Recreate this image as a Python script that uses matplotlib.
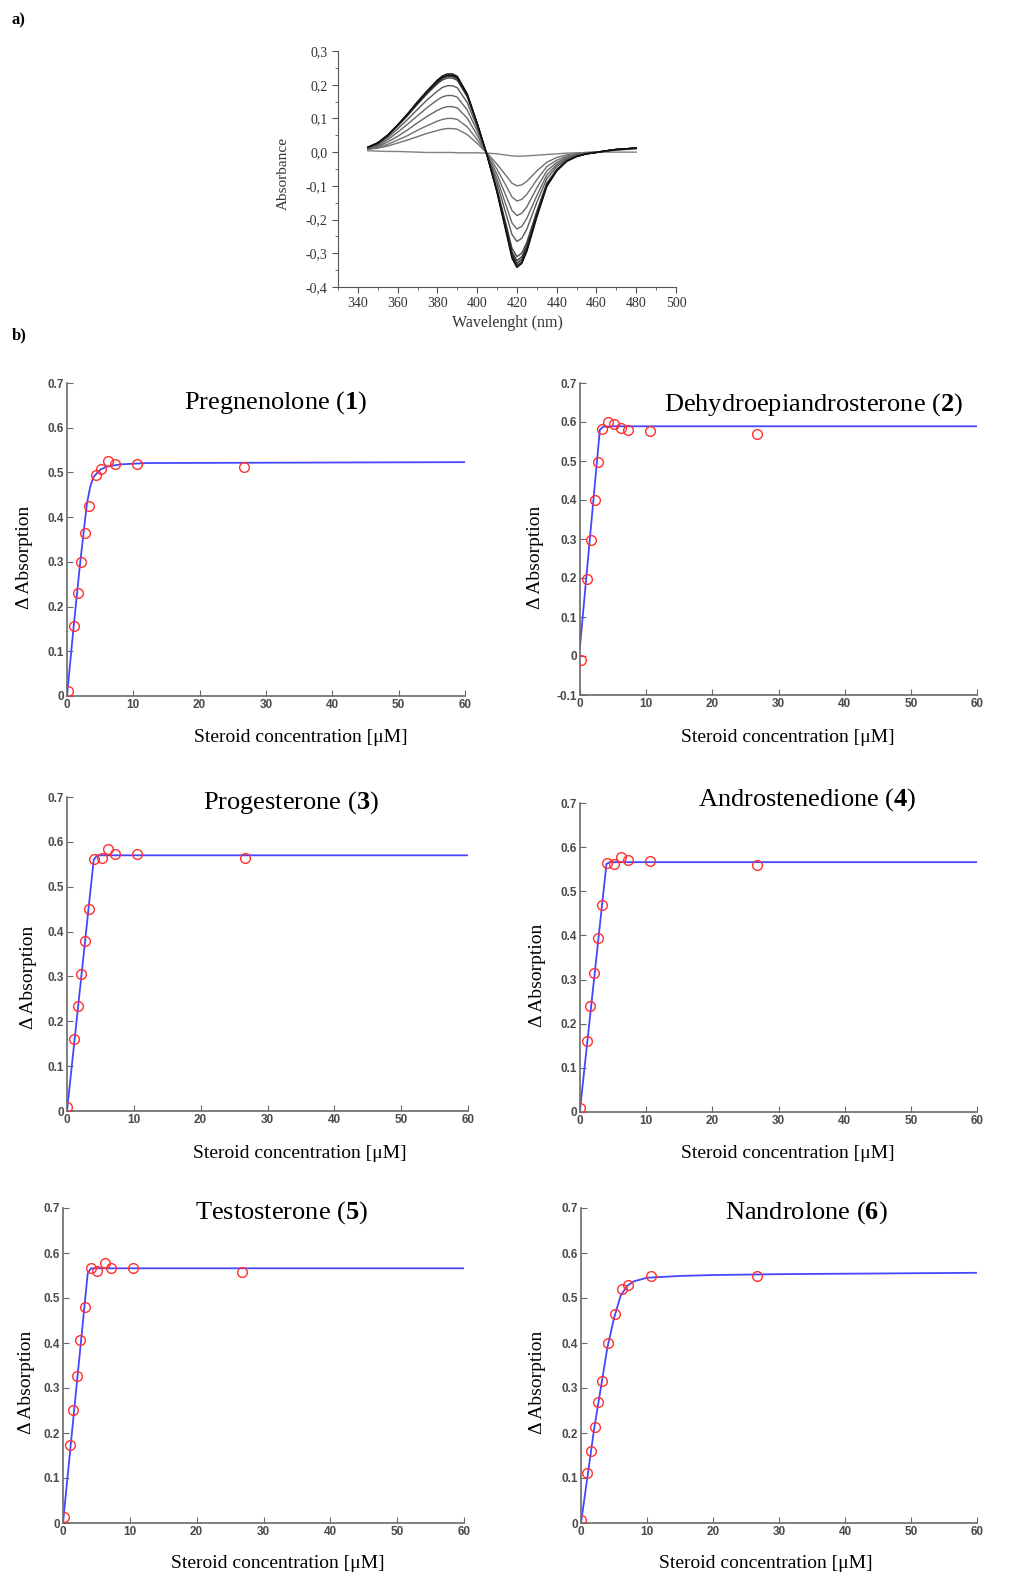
import numpy as np
import matplotlib.pyplot as plt
from matplotlib.ticker import MultipleLocator, FuncFormatter

plt.rcParams['font.family'] = ['Liberation Serif', 'DejaVu Serif']
plt.rcParams['mathtext.fontset'] = 'custom'
plt.rcParams['mathtext.rm'] = 'Liberation Serif'
plt.rcParams['mathtext.bf'] = 'Liberation Serif:bold'

# ---- a) difference spectra ----
wavelength = [345, 350, 355, 360, 365, 370, 375, 380, 382.5, 385, 387.5, 390, 395, 400, 405, 410,
              415, 417.5, 420, 422.5, 425, 430, 435, 440, 445, 450, 455, 460, 465, 470, 475, 480]
spec0 = [0.004, 0.003, 0.002, 0.002, 0.001, 0.0, -0.001, -0.001, -0.001, -0.001, -0.001, -0.002, -0.002, -0.002, -0.003, -0.005,
         -0.009, -0.011, -0.012, -0.012, -0.011, -0.009, -0.007, -0.005, -0.003, -0.002, -0.001, 0.0, 0.0, 0.0, 0.0, 0.0]
spec1 = [0.008, 0.012, 0.018, 0.027, 0.036, 0.046, 0.056, 0.064, 0.068, 0.070, 0.070, 0.068, 0.052, 0.026, -0.003, -0.036,
         -0.073, -0.092, -0.100, -0.097, -0.086, -0.056, -0.030, -0.016, -0.008, -0.004, -0.001, 0.0, 0.003, 0.006, 0.008, 0.010]
spec2 = [0.009, 0.014, 0.023, 0.036, 0.049, 0.065, 0.079, 0.092, 0.097, 0.100, 0.100, 0.097, 0.075, 0.037, -0.004, -0.051,
         -0.105, -0.133, -0.145, -0.140, -0.125, -0.082, -0.043, -0.024, -0.012, -0.006, -0.002, 0.0, 0.003, 0.006, 0.009, 0.011]
spec3 = [0.010, 0.017, 0.030, 0.047, 0.066, 0.087, 0.107, 0.124, 0.131, 0.135, 0.135, 0.131, 0.101, 0.050, -0.006, -0.066,
         -0.137, -0.173, -0.188, -0.181, -0.162, -0.106, -0.056, -0.031, -0.015, -0.007, -0.003, 0.0, 0.004, 0.007, 0.009, 0.011]
spec4 = [0.011, 0.020, 0.037, 0.059, 0.083, 0.108, 0.133, 0.155, 0.164, 0.168, 0.168, 0.163, 0.125, 0.063, -0.007, -0.080,
         -0.166, -0.210, -0.228, -0.220, -0.196, -0.129, -0.068, -0.037, -0.018, -0.009, -0.003, 0.0, 0.004, 0.007, 0.010, 0.011]
spec5 = [0.012, 0.023, 0.043, 0.069, 0.097, 0.127, 0.156, 0.181, 0.192, 0.197, 0.197, 0.191, 0.147, 0.073, -0.008, -0.093,
         -0.193, -0.244, -0.265, -0.255, -0.228, -0.149, -0.079, -0.043, -0.021, -0.010, -0.004, 0.0, 0.004, 0.008, 0.010, 0.012]
spec6 = [0.013, 0.026, 0.048, 0.077, 0.108, 0.142, 0.174, 0.203, 0.214, 0.220, 0.220, 0.213, 0.164, 0.082, -0.009, -0.109,
         -0.225, -0.285, -0.310, -0.299, -0.267, -0.175, -0.092, -0.051, -0.025, -0.012, -0.005, -0.001, 0.004, 0.008, 0.010, 0.012]
spec7 = [0.014, 0.027, 0.049, 0.079, 0.111, 0.145, 0.178, 0.207, 0.219, 0.225, 0.225, 0.218, 0.168, 0.084, -0.010, -0.113,
         -0.234, -0.296, -0.322, -0.310, -0.277, -0.181, -0.096, -0.053, -0.026, -0.012, -0.005, -0.001, 0.004, 0.008, 0.010, 0.012]
spec8 = [0.014, 0.027, 0.050, 0.080, 0.112, 0.147, 0.180, 0.210, 0.222, 0.228, 0.228, 0.221, 0.170, 0.085, -0.010, -0.116,
         -0.240, -0.303, -0.330, -0.318, -0.284, -0.186, -0.098, -0.054, -0.026, -0.013, -0.005, -0.001, 0.004, 0.008, 0.010, 0.012]
spec9 = [0.014, 0.027, 0.050, 0.080, 0.112, 0.147, 0.180, 0.210, 0.222, 0.228, 0.228, 0.221, 0.170, 0.085, -0.010, -0.118,
         -0.245, -0.310, -0.337, -0.325, -0.290, -0.190, -0.100, -0.055, -0.027, -0.013, -0.005, -0.001, 0.004, 0.008, 0.010, 0.012]
spec10 = [0.015, 0.028, 0.051, 0.081, 0.114, 0.150, 0.183, 0.214, 0.226, 0.232, 0.232, 0.225, 0.173, 0.086, -0.010, -0.120,
          -0.249, -0.315, -0.342, -0.330, -0.294, -0.193, -0.102, -0.056, -0.027, -0.013, -0.005, -0.001, 0.004, 0.008, 0.010, 0.013]
spectra = [spec0, spec1, spec2, spec3, spec4, spec5, spec6, spec7, spec8, spec9, spec10]
spec_colors = ['#808080', '#707070', '#707070', '#666666', '#666666', '#5a5a5a',
               '#444444', '#333333', '#2a2a2a', '#1a1a1a', '#111111']

# ---- b) titrations ----
names = ['Pregnenolone', 'Dehydroepiandrosterone', 'Progesterone',
         'Androstenedione', 'Testosterone', 'Nandrolone']
numbers = ['1', '2', '3', '4', '5', '6']

preg_x = [0.1, 1.0, 1.6, 2.1, 2.7, 3.3, 4.3, 5.2, 6.2, 7.3, 10.5, 26.7]
preg_y = [0.011, 0.157, 0.230, 0.299, 0.364, 0.425, 0.495, 0.507, 0.525, 0.519, 0.519, 0.513]
preg_fx = [0, 1, 2, 3, 3.5, 4, 5, 6, 8, 12, 60]
preg_fy = [0.0, 0.155, 0.300, 0.430, 0.468, 0.490, 0.506, 0.513, 0.518, 0.521, 0.523]

dhea_x = [0.1, 1.1, 1.6, 2.2, 2.7, 3.4, 4.2, 5.2, 6.2, 7.2, 10.6, 26.7]
dhea_y = [-0.009, 0.198, 0.298, 0.400, 0.497, 0.582, 0.601, 0.594, 0.584, 0.580, 0.577, 0.569]
dhea_fx = [0, 3.0, 3.5, 5, 60]
dhea_fy = [0.025, 0.580, 0.588, 0.589, 0.589]

prog_x = [0.05, 1.1, 1.65, 2.1, 2.7, 3.25, 4.1, 5.2, 6.2, 7.2, 10.5, 26.7]
prog_y = [0.009, 0.161, 0.233, 0.305, 0.379, 0.451, 0.562, 0.565, 0.583, 0.574, 0.574, 0.563]
prog_fx = [0, 4.0, 4.5, 60]
prog_fy = [0.0, 0.560, 0.570, 0.570]

andr_x = [0.05, 1.0, 1.56, 2.17, 2.7, 3.3, 4.1, 5.2, 6.25, 7.26, 10.6, 26.7]
andr_y = [0.009, 0.161, 0.240, 0.316, 0.395, 0.469, 0.564, 0.561, 0.578, 0.570, 0.568, 0.559]
andr_fx = [0, 4.0, 4.5, 60]
andr_fy = [0.005, 0.562, 0.566, 0.566]

test_x = [0.1, 1.0, 1.55, 2.1, 2.6, 3.25, 4.15, 5.15, 6.3, 7.25, 10.5, 26.8]
test_y = [0.013, 0.173, 0.252, 0.327, 0.407, 0.481, 0.566, 0.561, 0.578, 0.567, 0.567, 0.557]
test_fx = [0, 3.7, 4.2, 60]
test_fy = [0.0, 0.555, 0.566, 0.566]

nand_x = [0.0, 0.96, 1.5, 2.07, 2.63, 3.24, 4.1, 5.16, 6.17, 7.18, 10.57, 26.7]
nand_y = [0.006, 0.111, 0.160, 0.214, 0.269, 0.316, 0.401, 0.464, 0.520, 0.528, 0.548, 0.548]
nand_fx = [0, 1, 2, 3, 4, 5, 6, 7, 8, 10, 15, 20, 30, 60]
nand_fy = [0.0, 0.105, 0.210, 0.300, 0.390, 0.455, 0.505, 0.527, 0.537, 0.545, 0.549, 0.551, 0.553, 0.556]

data_x = [preg_x, dhea_x, prog_x, andr_x, test_x, nand_x]
data_y = [preg_y, dhea_y, prog_y, andr_y, test_y, nand_y]
fit_x = [preg_fx, dhea_fx, prog_fx, andr_fx, test_fx, nand_fx]
fit_y = [preg_fy, dhea_fy, prog_fy, andr_fy, test_fy, nand_fy]
y_bottom = [0, -0.1, 0, 0, 0, 0]

W, H = 1011, 1575
fig = plt.figure(figsize=(W / 100, H / 100), dpi=100)


def box(l, r, t, b):
    return [l / W, 1 - b / H, (r - l) / W, (b - t) / H]


# panel a
ax = fig.add_axes(box(338, 676, 51, 287))
for s, c in zip(spectra, spec_colors):
    ax.plot(wavelength, s, color=c, lw=1.0)
ax.set_xlim(330, 500)
ax.set_ylim(-0.4, 0.3)
ax.xaxis.set_major_locator(MultipleLocator(20))
ax.xaxis.set_minor_locator(MultipleLocator(10))
ax.yaxis.set_major_locator(MultipleLocator(0.1))
ax.yaxis.set_minor_locator(MultipleLocator(0.05))
ax.yaxis.set_major_formatter(FuncFormatter(lambda v, p: f'{v:.1f}'.replace('.', ',').replace('-0,0', '0,0')))
for sp in ['top', 'right']:
    ax.spines[sp].set_visible(False)
for sp in ['left', 'bottom']:
    ax.spines[sp].set_color('#555555')
ax.tick_params(which='both', direction='out', colors='#555555', labelcolor='#333333', labelsize=10)
ax.tick_params(which='major', length=4)
ax.tick_params(which='minor', length=2)
ax.set_ylabel('Absorbance', fontsize=11, color='#333333', va='center')
ax.yaxis.set_label_coords((283 - 338) / 338, 1 - (174 - 51) / 236)
ax.set_xlabel('Wavelenght (nm)', fontsize=11.5, color='#333333', va='center')
ax.xaxis.set_label_coords((507 - 338) / 338, -(323 - 287) / 236)

fig.text(12 / W, 1 - 20 / H, 'a)', fontsize=12, fontweight='bold', va='center')
fig.text(12 / W, 1 - 335 / H, 'b)', fontsize=12, fontweight='bold', va='center')

# panel b layout (pixels): left, right, top, bottom
boxes = [(67, 465, 383, 696), (580, 977, 383, 695),
         (67, 468, 797, 1111), (580, 977, 803, 1112),
         (63, 464, 1208, 1523), (581, 977, 1208, 1523)]
title_pos = [(0.525, 0.936), (0.589, 0.93), (0.559, 0.981),
             (0.572, 1.01), (0.546, 0.987), (0.568, 0.987)]
xlab_pos = [(0.588, -0.131), (0.524, -0.135), (0.581, -0.134),
            (0.524, -0.133), (0.536, -0.127), (0.467, -0.127)]
ylab_pos = [(-0.108, 0.444), (-0.113, 0.442), (-0.097, 0.427),
            (-0.106, 0.443), (-0.09, 0.448), (-0.111, 0.448)]

for i in range(6):
    ax = fig.add_axes(box(*boxes[i]))
    ax.plot(fit_x[i], fit_y[i], color='#4646ff', lw=1.3, zorder=2)
    ax.plot(data_x[i], data_y[i], linestyle='none', marker='o', ms=7, mfc='none',
            mec='#ff3030', mew=1.0, zorder=3)
    ax.set_xlim(0, 60)
    ax.set_ylim(y_bottom[i], 0.7)
    ax.xaxis.set_major_locator(MultipleLocator(10))
    ax.yaxis.set_major_locator(MultipleLocator(0.1))
    ax.yaxis.set_major_formatter(FuncFormatter(lambda v, p: '0' if abs(v) < 1e-9 else f'{v:.1f}'))
    for sp in ['top', 'right']:
        ax.spines[sp].set_visible(False)
    for sp in ['left', 'bottom']:
        ax.spines[sp].set_color('#6a6a6a')
        ax.spines[sp].set_linewidth(1.2)
    ax.tick_params(direction='in', length=4, colors='#6a6a6a', labelcolor='#4a4a4a', pad=2)
    for lab in ax.get_xticklabels() + ax.get_yticklabels():
        lab.set_family(['Liberation Sans', 'DejaVu Sans'])
        lab.set_fontweight('bold')
        lab.set_fontsize(8.5)
    ax.text(title_pos[i][0], title_pos[i][1], f'{names[i]} ($\\mathbf{{{numbers[i]}}}$)',
            transform=ax.transAxes, ha='center', va='center', fontsize=19)
    ax.set_xlabel('Steroid concentration [μM]', fontsize=14, va='center')
    ax.xaxis.set_label_coords(*xlab_pos[i])
    ax.set_ylabel('Δ Absorption', fontsize=14, va='center')
    ax.yaxis.set_label_coords(*ylab_pos[i])

fig.savefig('out.png', dpi=100, facecolor='white')
